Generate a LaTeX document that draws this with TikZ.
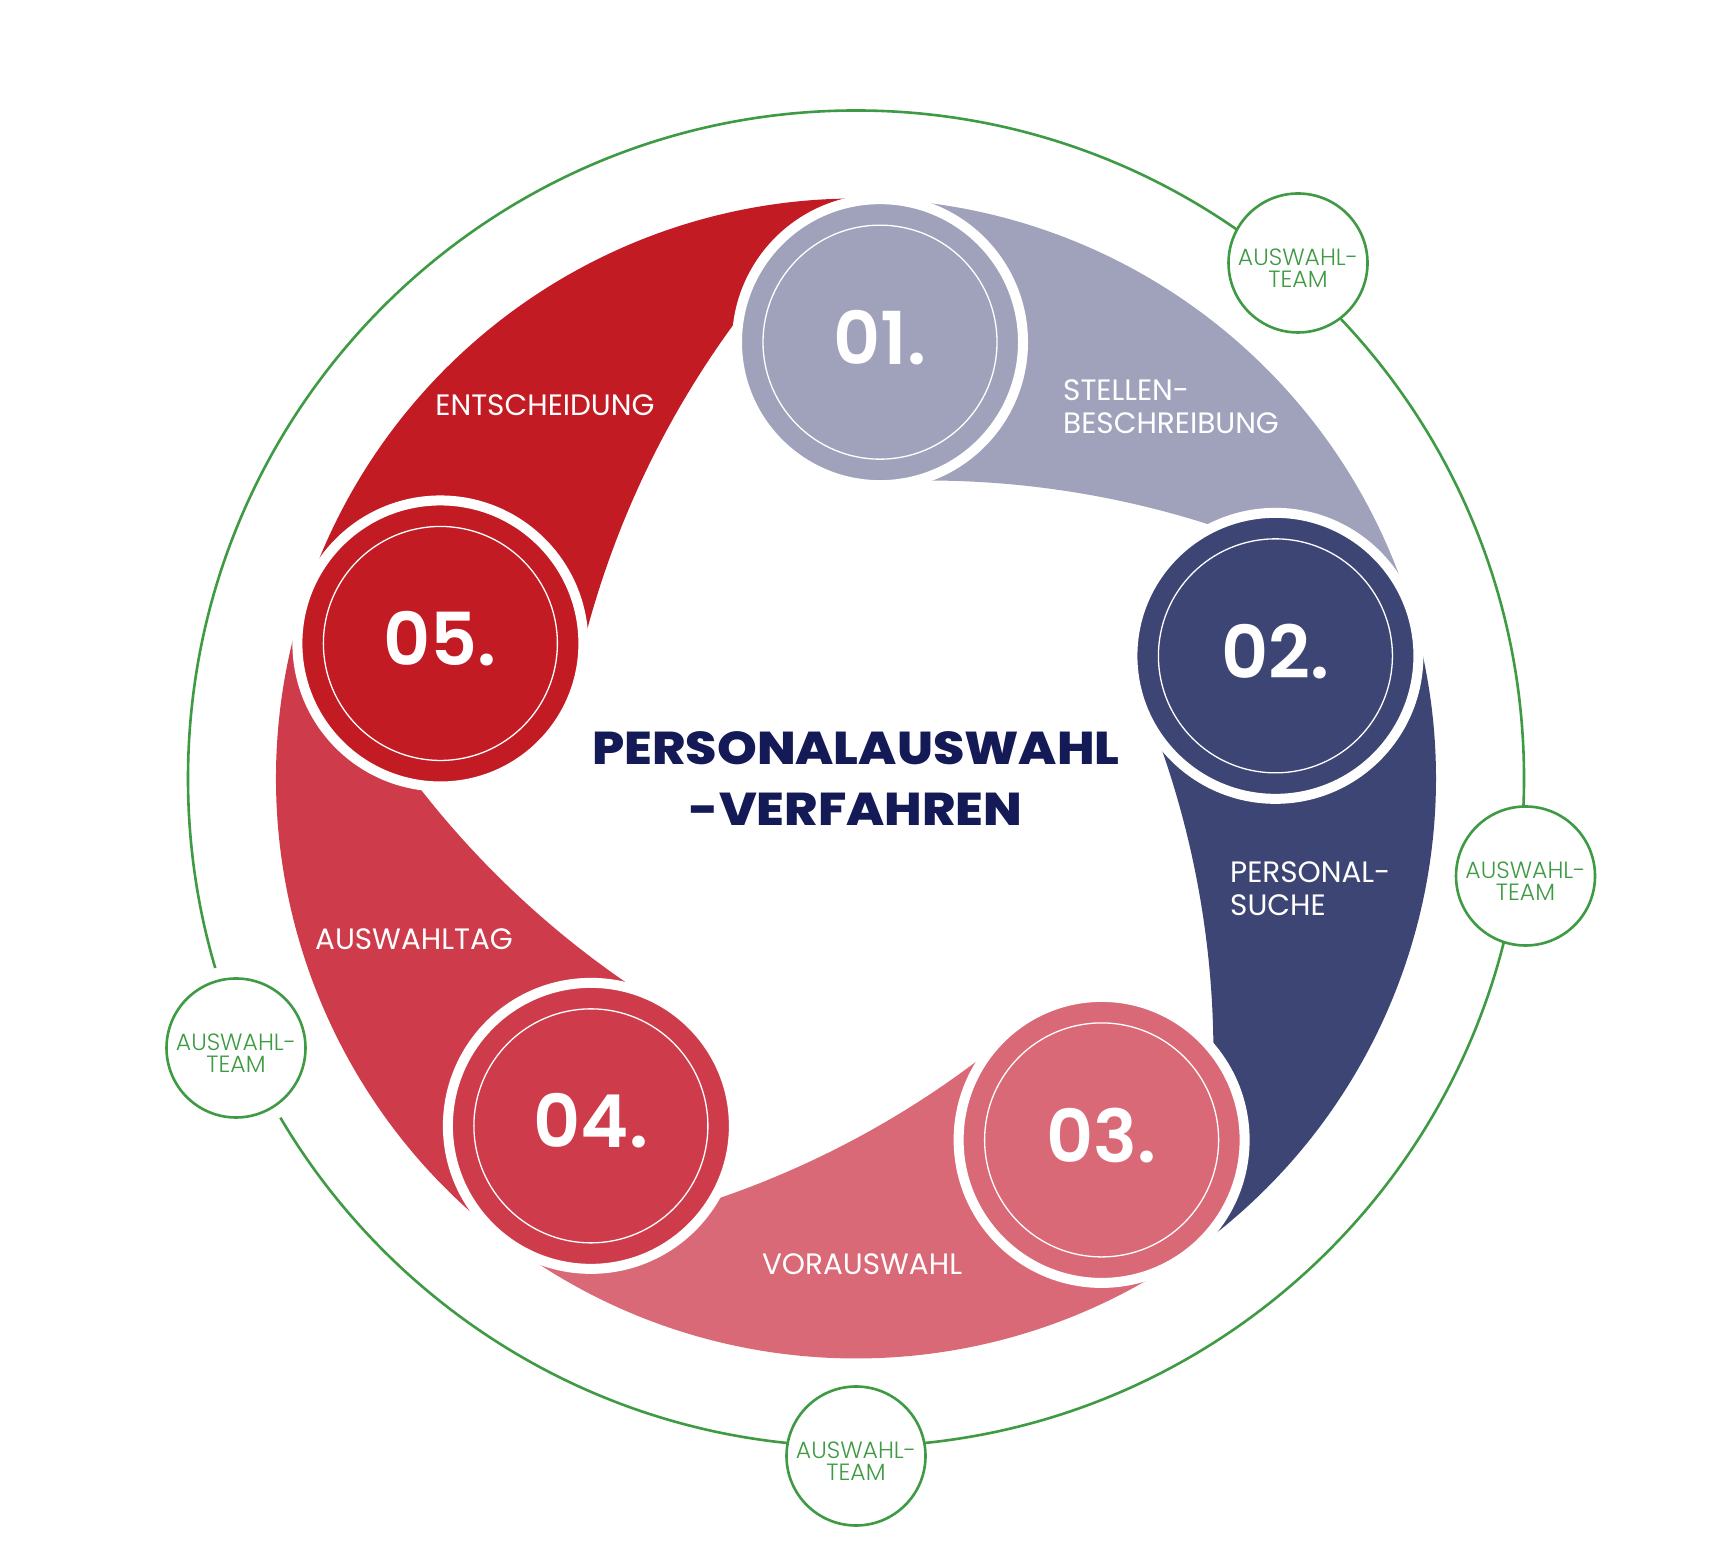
\documentclass[tikz,border=0pt]{standalone}
\usepackage{fontspec}
\usetikzlibrary{calc}
\setmainfont{Poppins}
\newfontfamily\numfont{Poppins SemiBold}
\newfontfamily\lightfont{Poppins Light}
\newfontfamily\heavyfont{Poppins ExtraBold}[FakeStretch=1.1]
\definecolor{cA}{RGB}{160,162,188}
\definecolor{cB}{RGB}{61,69,116}
\definecolor{cC}{RGB}{218,105,119}
\definecolor{cD}{RGB}{206,60,76}
\definecolor{cE}{RGB}{194,27,36}
\definecolor{teamgreen}{RGB}{62,154,67}
\definecolor{titleblue}{RGB}{20,26,86}
\tikzset{
  stepcircle/.style={circle, draw=white, line width=10pt, minimum size=286pt, inner sep=0pt,
    text=white, font=\numfont\fontsize{73}{73}\selectfont, text depth=10pt},
  innerring/.style={draw=white, line width=1.3pt},
  teamcircle/.style={circle, draw=teamgreen, line width=2.6pt, fill=white, minimum size=139pt,
    inner sep=0pt,
    label={[text=teamgreen, font=\lightfont\fontsize{23.5}{22}\selectfont, align=center,
      inner sep=0pt, yshift=-5.5pt]center:{AUSWAHL-\\TEAM}}},
  ringline/.style={draw=teamgreen, line width=2.6pt},
  bandlabel/.style={text=white, font=\fontsize{29.5}{33}\selectfont, inner sep=0pt},
  titletext/.style={text=titleblue, font=\heavyfont\fontsize{46}{61}\selectfont, align=center, inner sep=0pt}
}
\begin{document}
\begin{tikzpicture}[x=1pt,y=1pt]
\useasboundingbox (0,0) rectangle (1712,1560);
\fill[white] (0,0) rectangle (1712,1560);
\coordinate (C) at (856,781.5);
% outer green ring
\draw[ringline] (C) circle[radius=668];
% team nodes
\node[teamcircle] (t1) at (1298,1297) {};
\node[teamcircle] (t2) at (1525.5,684) {};
\node[teamcircle] (t3) at (856,104) {};
\node[teamcircle, preaction={draw=white, line width=26pt}] (t4) at (236,512) {};
% bands: outer arc of the ring, inner edge an arc of a larger offset circle
\begin{scope}[shift={(C)}]
\foreach \s/\e/\col in {86.85/16.3/cA, 16.3/-55.8/cB, -55.8/-127.35/cC, -127.35/-198/cD, 162/86.85/cE}{
  \pgfmathsetmacro\ax{632*cos(\s-170.4)+926*cos(\s-26)}
  \pgfmathsetmacro\ay{632*sin(\s-170.4)+926*sin(\s-26)}
  \fill[\col] (\s:580) arc[start angle=\s, end angle=\e, radius=580]
    -- (\ax,\ay) arc[start angle={\s-26}, end angle={\s+7}, radius=926] -- cycle;
}
\end{scope}
% step circles
\node[stepcircle, fill=cA] (n1) at ($(C)+(86.85:437)$) {01.};
\node[stepcircle, fill=cB] (n2) at ($(C)+(16.3:437)$) {02.};
\node[stepcircle, fill=cC] (n3) at ($(C)+(-55.8:437)$) {03.};
\node[stepcircle, fill=cD] (n4) at ($(C)+(-127.35:437)$) {04.};
\node[stepcircle, fill=cE] (n5) at ($(C)+(162:437)$) {05.};
\foreach \n in {n1,n2,n3,n4,n5}{ \draw[innerring] (\n.center) circle[radius=117]; }
% band labels
\node[bandlabel, align=left, anchor=west] (l1) at (1063,1153) {STELLEN-\\BESCHREIBUNG};
\node[bandlabel, align=left, anchor=west] (l2) at (1230,671.5) {PERSONAL-\\SUCHE};
\node[bandlabel] (l3) at (862,296) {VORAUSWAHL};
\node[bandlabel] (l4) at (414,621) {AUSWAHLTAG};
\node[bandlabel] (l5) at (545,1155) {ENTSCHEIDUNG};
% title
\node[titletext] (title) at (856,781) {PERSONALAUSWAHL\\-VERFAHREN};
\end{tikzpicture}
\end{document}
